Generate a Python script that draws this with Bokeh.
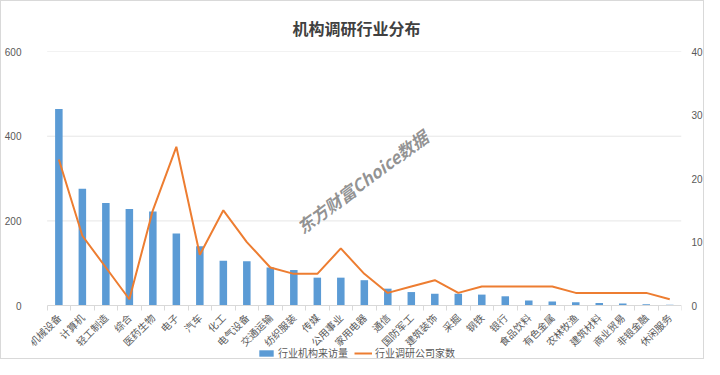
import math
from bokeh.plotting import figure
from bokeh.models import (ColumnDataSource, Range1d, LinearAxis, FixedTicker,
                          Legend, LegendItem)
from bokeh.core.properties import value
from bokeh.embed import file_html
from bokeh.resources import INLINE

categories = ["机械设备", "计算机", "轻工制造", "综合", "医药生物", "电子", "汽车", "化工",
              "电气设备", "交通运输", "纺织服装", "传媒", "公用事业", "家用电器", "通信",
              "国防军工", "建筑装饰", "采掘", "钢铁", "银行", "食品饮料", "有色金属",
              "农林牧渔", "建筑材料", "商业贸易", "非银金融", "休闲服务"]
visits = [464, 276, 242, 228, 222, 170, 140, 106, 105, 90, 84, 66, 66, 60, 40,
          32, 28, 28, 26, 22, 12, 10, 8, 6, 5, 3, 2]
firms = [23, 11, 6, 1, 15, 25, 8, 15, 10, 6, 5, 5, 9, 5, 2,
         3, 4, 2, 3, 3, 3, 3, 2, 2, 2, 2, 1]
left_ticks = [0, 200, 400, 600]
right_ticks = [0, 10, 20, 30, 40]
LEFT_MAX, RIGHT_MAX = 600, 40

FONT = "Noto Sans CJK SC"
GRAY = "#595959"

n = len(categories)
idx = list(range(n))
src = ColumnDataSource(dict(idx=idx, visits=visits, firms=firms))

# layout (pixels): room inside the frame for the first rotated label and the legend
FRAME_W, PAD_L = 666, 16
px_per_cat = (FRAME_W - PAD_L) / n
x_start = -0.5 - PAD_L / px_per_cat
below_frac = 54 / 250

p = figure(width=704, height=359, output_backend="svg", toolbar_location=None,
           x_range=Range1d(x_start, n - 0.5),
           y_range=Range1d(-LEFT_MAX * below_frac, LEFT_MAX),
           min_border_left=22, min_border_right=16, min_border_top=50,
           min_border_bottom=0)
p.extra_y_ranges = {"right": Range1d(-RIGHT_MAX * below_frac, RIGHT_MAX)}
p.outline_line_color = None
p.background_fill_color = "white"
p.border_fill_color = "white"
p.styles = {"border": "1px solid #d9d9d9", "box-sizing": "border-box"}

p.title.text = "机构调研行业分布"
p.title.align = "center"
p.title.text_font = FONT
p.title.text_font_size = "16px"
p.title.text_font_style = "bold"
p.title.text_color = "#404040"
p.title.standoff = 24

# horizontal gridlines across the category area
p.segment(x0=[-0.5] * 3, x1=[n - 0.5] * 3, y0=left_ticks[1:], y1=left_ticks[1:],
          line_color="#e6e6e6", line_width=1)

bars = p.vbar(x="idx", top="visits", width=0.32, source=src,
              fill_color="#5b9bd5", line_color=None)
line = p.line(x="idx", y="firms", source=src, y_range_name="right",
              line_color="#ed7d31", line_width=2)

# x axis, pinned at value 0 inside the frame
xa = p.xaxis[0]
xa.fixed_location = 0
xa.bounds = (-0.5, n - 0.5)
xa.ticker = FixedTicker(ticks=idx, minor_ticks=[i - 0.5 for i in range(n + 1)])
xa.major_label_overrides = {i: c for i, c in enumerate(categories)}
xa.major_label_orientation = math.pi / 4
xa.major_label_text_font = FONT
xa.major_label_text_font_size = "10px"
xa.major_label_text_color = GRAY
xa.axis_line_color = "#d9d9d9"
xa.major_tick_line_color = None
xa.minor_tick_line_color = "#d9d9d9"
xa.minor_tick_out = 5
xa.minor_tick_in = 0
xa.major_label_standoff = 4

# left axis
ya = p.yaxis[0]
ya.ticker = FixedTicker(ticks=left_ticks)
ya.axis_line_color = None
ya.major_tick_line_color = None
ya.minor_tick_line_color = None
ya.major_label_text_font = "Liberation Sans"
ya.major_label_text_font_size = "10px"
ya.major_label_text_color = GRAY
ya.major_label_standoff = 4

# right axis
ra = LinearAxis(y_range_name="right", ticker=FixedTicker(ticks=right_ticks))
ra.axis_line_color = None
ra.major_tick_line_color = None
ra.minor_tick_line_color = None
ra.major_label_text_font = "Liberation Sans"
ra.major_label_text_font_size = "10px"
ra.major_label_text_color = GRAY
ra.major_label_standoff = 4
p.add_layout(ra, "right")

p.xgrid.grid_line_color = None
p.ygrid.grid_line_color = None

# watermark
p.text(x=[12.9], y=[293], text=["东方财富Choice数据"], angle=36.6, angle_units="deg",
       text_align="center", text_baseline="middle", text_font=value(FONT),
       text_font_size="17px", text_font_style="bold italic", text_color="#7f7f7f",
       text_alpha=0.85)

legend = Legend(items=[LegendItem(label="行业机构来访量", renderers=[bars]),
                       LegendItem(label="行业调研公司家数", renderers=[line])],
                orientation="horizontal", location="bottom_center")
legend.label_text_font = FONT
legend.label_text_font_size = "10px"
legend.label_text_color = GRAY
legend.glyph_width = 18
legend.glyph_height = 8
legend.label_height = 12
legend.label_standoff = 3
legend.spacing = 6
legend.padding = 0
legend.margin = 0
legend.border_line_color = None
legend.background_fill_alpha = 0
p.add_layout(legend)

open("out.html", "w").write(file_html(p, INLINE))
